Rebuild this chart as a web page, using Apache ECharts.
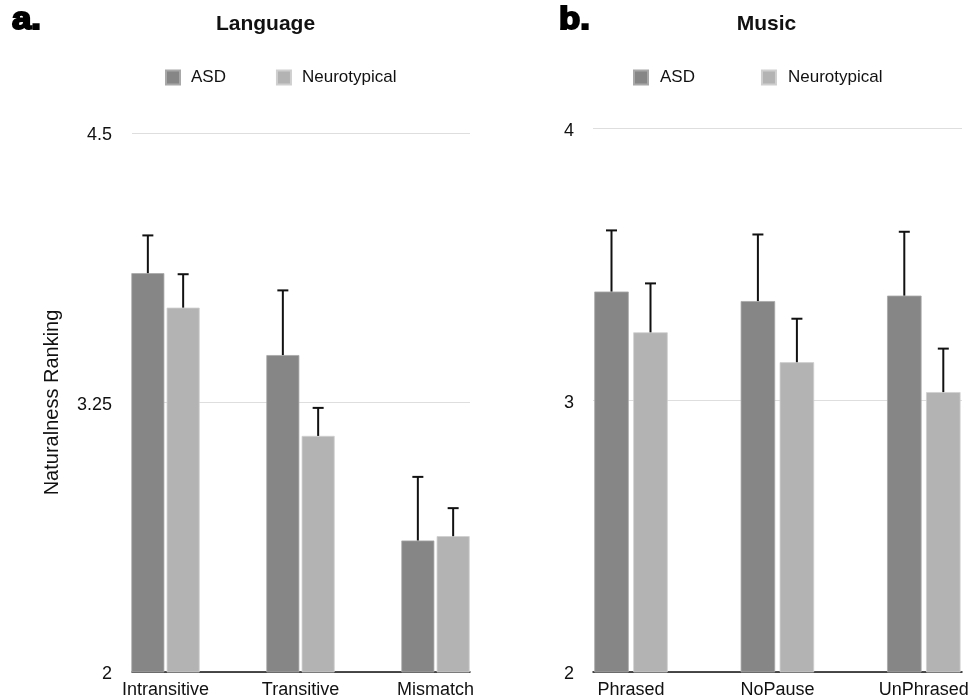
<!DOCTYPE html>
<html>
<head>
<meta charset="utf-8">
<script src="https://cdn.jsdelivr.net/npm/echarts@6/dist/echarts.min.js"></script>
<style>
html,body{margin:0;padding:0;background:#fff;}
#chart{width:973px;height:700px;}
</style>
</head>
<body>
<div id="chart"></div>
<script>
// ---- Data ----
const langCategories = ['Intransitive', 'Transitive', 'Mismatch'];
const langASD = [3.85, 3.47, 2.61];
const langASDErr = [0.175, 0.30, 0.295];
const langNT = [3.69, 3.095, 2.63];
const langNTErr = [0.155, 0.13, 0.13];
const langTicks = [2, 3.25, 4.5];

const musicCategories = ['Phrased', 'NoPause', 'UnPhrased'];
const musicASD = [3.40, 3.365, 3.385];
const musicASDErr = [0.225, 0.245, 0.235];
const musicNT = [3.25, 3.14, 3.03];
const musicNTErr = [0.18, 0.16, 0.16];
const musicTicks = [2, 3, 4];

const FONT = "'Liberation Sans', Arial, Helvetica, sans-serif";
const DARK = '#868686';
const LIGHT = '#b3b3b3';

function errData(means, errs) {
  return means.map((m, i) => [i, m, errs[i]]);
}

function errSeries(name, xIdx, yIdx, means, errs, offset) {
  return {
    type: 'custom',
    name: name,
    xAxisIndex: xIdx,
    yAxisIndex: yIdx,
    z: 5,
    silent: true,
    encode: { x: 0, y: 1 },
    data: errData(means, errs),
    renderItem: function (params, api) {
      const i = api.value(0);
      const m = api.value(1);
      const e = api.value(2);
      const p0 = api.coord([i, m]);
      const p1 = api.coord([i, m + e]);
      const x = p0[0] + offset;
      const cap = 5.5;
      return {
        type: 'group',
        children: [
          { type: 'line', shape: { x1: x, y1: p0[1], x2: x, y2: p1[1] }, style: { stroke: '#111', lineWidth: 2 } },
          { type: 'line', shape: { x1: x - cap, y1: p1[1], x2: x + cap, y2: p1[1] }, style: { stroke: '#111', lineWidth: 2 } }
        ]
      };
    }
  };
}

const chart = echarts.init(document.getElementById('chart'));

const labelStyle = { color: '#111', fontSize: 18, fontFamily: FONT };
const yLabel = {
  formatter: '{v|{value}}',
  rich: { v: { color: '#111', fontSize: 18, fontFamily: FONT, padding: [5, 0, 0, 0] } }
};

const option = {
  animation: false,
  backgroundColor: '#fff',
  textStyle: { fontFamily: FONT },
  graphic: [
    { type: 'text', x: 12, y: 5, scaleX: 1.12, style: { text: 'a.', font: "bold 31px " + FONT, fill: '#000', stroke: '#000', lineWidth: 2 } },
    { type: 'text', x: 559, y: 5, scaleX: 1.12, style: { text: 'b.', font: "bold 31px " + FONT, fill: '#000', stroke: '#000', lineWidth: 2 } },
    { type: 'text', x: 265.5, y: 24, style: { text: 'Language', font: "bold 21px " + FONT, fill: '#111', textAlign: 'center', textVerticalAlign: 'middle' } },
    { type: 'text', x: 766.5, y: 24, style: { text: 'Music', font: "bold 21px " + FONT, fill: '#111', textAlign: 'center', textVerticalAlign: 'middle' } }
  ],
  legend: [
    {
      left: 160, top: 64, itemWidth: 14, itemHeight: 14, itemGap: 50, icon: 'rect',
      data: ['ASD', 'Neurotypical'],
      textStyle: { color: '#111', fontSize: 17, fontFamily: FONT, padding: [0, 0, 0, 6] },
      selectedMode: false
    },
    {
      left: 628, top: 64, itemWidth: 14, itemHeight: 14, itemGap: 66, icon: 'rect',
      data: ['ASD', 'Neurotypical'],
      textStyle: { color: '#111', fontSize: 17, fontFamily: FONT, padding: [0, 0, 0, 7] },
      selectedMode: false
    }
  ],
  grid: [
    { left: 132, width: 338, top: 133, height: 539 },
    { left: 98, width: 405, top: 133, height: 539 },
    { left: 593, width: 369, top: 128.5, height: 543.5 },
    { left: 631, width: 292.8, top: 128.5, height: 543.5 }
  ],
  xAxis: [
    { gridIndex: 0, type: 'value', min: 0, max: 1, axisLine: { show: true, onZero: false, lineStyle: { color: '#111', width: 1.5 } }, axisTick: { show: false }, axisLabel: { show: false }, splitLine: { show: false } },
    { gridIndex: 1, type: 'category', data: langCategories, axisLine: { show: false }, axisTick: { show: false }, axisLabel: Object.assign({ margin: 9 }, labelStyle) },
    { gridIndex: 2, type: 'value', min: 0, max: 1, axisLine: { show: true, onZero: false, lineStyle: { color: '#111', width: 1.5 } }, axisTick: { show: false }, axisLabel: { show: false }, splitLine: { show: false } },
    { gridIndex: 3, type: 'category', boundaryGap: false, data: musicCategories, axisLine: { show: false }, axisTick: { show: false }, axisLabel: Object.assign({ margin: 9 }, labelStyle) }
  ],
  yAxis: [
    {
      gridIndex: 0, type: 'value', min: langTicks[0], max: langTicks[langTicks.length - 1], interval: 1.25,
      axisLine: { show: false }, axisTick: { show: false },
      axisLabel: Object.assign({ margin: 20 }, yLabel),
      splitLine: { lineStyle: { color: '#dedede', width: 1 } },
      name: 'Naturalness Ranking', nameLocation: 'middle', nameGap: 70,
      nameTextStyle: { color: '#111', fontSize: 20, fontFamily: FONT }
    },
    { gridIndex: 1, type: 'value', min: langTicks[0], max: langTicks[langTicks.length - 1], show: false },
    {
      gridIndex: 2, type: 'value', min: musicTicks[0], max: musicTicks[musicTicks.length - 1], interval: 1,
      axisLine: { show: false }, axisTick: { show: false },
      axisLabel: Object.assign({ margin: 19 }, yLabel),
      splitLine: { lineStyle: { color: '#dedede', width: 1 } }
    },
    { gridIndex: 3, type: 'value', min: musicTicks[0], max: musicTicks[musicTicks.length - 1], show: false }
  ],
  series: [
    { type: 'bar', name: 'ASD', xAxisIndex: 1, yAxisIndex: 1, data: langASD, barWidth: 33, barGap: '7%', itemStyle: { color: DARK, borderColor: '#a8a8a8', borderWidth: 0.8 } },
    { type: 'bar', name: 'Neurotypical', xAxisIndex: 1, yAxisIndex: 1, data: langNT, barWidth: 33, barGap: '7%', itemStyle: { color: LIGHT, borderColor: '#cfcfcf', borderWidth: 0.8 } },
    errSeries('errLangASD', 1, 1, langASD, langASDErr, -17.65),
    errSeries('errLangNT', 1, 1, langNT, langNTErr, 17.65),
    { type: 'bar', name: 'ASD', xAxisIndex: 3, yAxisIndex: 3, data: musicASD, barWidth: 34.5, barGap: '13%', itemStyle: { color: DARK, borderColor: '#a8a8a8', borderWidth: 0.8 } },
    { type: 'bar', name: 'Neurotypical', xAxisIndex: 3, yAxisIndex: 3, data: musicNT, barWidth: 34.5, barGap: '13%', itemStyle: { color: LIGHT, borderColor: '#cfcfcf', borderWidth: 0.8 } },
    errSeries('errMusicASD', 3, 3, musicASD, musicASDErr, -19.5),
    errSeries('errMusicNT', 3, 3, musicNT, musicNTErr, 19.5)
  ]
};

chart.setOption(option);
</script>
</body>
</html>
